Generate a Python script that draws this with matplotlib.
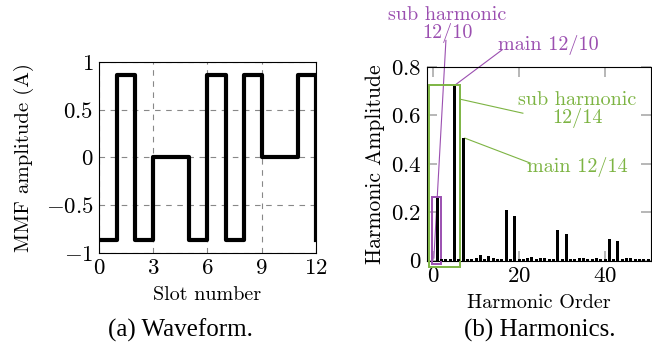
import matplotlib.pyplot as plt
from matplotlib.patches import Rectangle

plt.rcParams['font.family'] = ['cmr10', 'DejaVu Serif']
plt.rcParams['mathtext.fontset'] = 'cm'
plt.rcParams['axes.formatter.use_mathtext'] = True
plt.rcParams['font.size'] = 14

# MMF per slot (steps-post, last point closes the step at slot 12)
slots = [0, 1, 2, 3, 4, 5, 6, 7, 8, 9, 10, 11, 12]
mmf = [-0.866, 0.866, -0.866, 0, 0, -0.866, 0.866, -0.866, 0.866, 0, 0, 0.866, -0.866]

# harmonic spectrum, order 0..50
orders = list(range(51))
amps = [0, 0.26, 0.008, 0.006, 0.006, 0.72, 0.005, 0.505, 0.006, 0.008,
        0.012, 0.024, 0.006, 0.018, 0.011, 0.008, 0.008, 0.21, 0.006, 0.185,
        0.006, 0.008, 0.012, 0.014, 0.005, 0.01, 0.01, 0.008, 0.006, 0.125,
        0.005, 0.11, 0.006, 0.008, 0.01, 0.01, 0.005, 0.008, 0.01, 0.008,
        0.006, 0.09, 0.005, 0.08, 0.006, 0.01, 0.01, 0.008, 0.005, 0.006,
        0.005]

purple = '#9b4fb0'
green = '#7db443'

fig = plt.figure(figsize=(6.52, 3.51), dpi=100)

# (a) waveform
ax1 = fig.add_axes([0.1518, 0.2792, 0.3328, 0.5442])
ax1.plot(slots, mmf, drawstyle='steps-post', color='black', lw=3.0)
ax1.set_xlim(0, 12)
ax1.set_ylim(-1, 1)
ax1.set_xticks([0, 3, 6, 9, 12])
ax1.set_xticklabels(['$0$', '$3$', '$6$', '$9$', '$12$'])
ax1.set_yticks([-1, -0.5, 0, 0.5, 1])
ax1.set_yticklabels(['$-1$', '$-0.5$', '$0$', '$0.5$', '$1$'])
ax1.grid(True, color='#888888', ls=(0, (5, 5)), lw=0.8)
ax1.tick_params(length=0, pad=4, labelsize=16.5)
ax1.set_xlabel('Slot number', fontsize=14.5, labelpad=6)
ax1.set_ylabel('MMF amplitude (A)', fontsize=15, labelpad=8)
for s in ax1.spines.values():
    s.set_linewidth(0.8)

# (b) harmonics
ax2 = fig.add_axes([0.6549, 0.2564, 0.3436, 0.5527])
ax2.bar(orders, amps, width=0.7, color='black', zorder=4)
ax2.set_xlim(-1.4, 50.7)
ax2.set_ylim(-0.002, 0.8)
ax2.set_xticks([0, 20, 40])
ax2.set_xticklabels(['$0$', '$20$', '$40$'])
ax2.set_yticks([0, 0.2, 0.4, 0.6, 0.8])
ax2.set_yticklabels(['$0$', '$0.2$', '$0.4$', '$0.6$', '$0.8$'])
ax2.tick_params(direction='in', length=7, color='#aaaaaa', width=1.2,
                top=True, right=True, labelsize=16.5, pad=4)
ax2.set_xlabel('Harmonic Order', fontsize=14.5, labelpad=6)
ax2.set_ylabel('Harmonic Amplitude', fontsize=15.5, labelpad=4)
for s in ax2.spines.values():
    s.set_linewidth(0.8)

ax2.add_patch(Rectangle((-0.85, -0.027), 7.15, 0.754, fill=False,
                        edgecolor=green, lw=1.4, clip_on=False, zorder=3))
ax2.add_patch(Rectangle((-0.15, -0.015), 2.0, 0.279, fill=False,
                        edgecolor=purple, lw=1.4, clip_on=False, zorder=3))

ax2.plot([3.0, 0.2], [0.91, 0.01], color=purple, lw=0.8, clip_on=False)
ax2.text(3.26, 0.975, 'sub harmonic\n12/10', color=purple, ha='center',
         va='center', fontsize=14.5, linespacing=0.95)
ax2.plot([16.0, 5.1], [0.87, 0.725], color=purple, lw=0.8, clip_on=False)
ax2.text(26.7, 0.89, 'main 12/10', color=purple, ha='center', va='center',
         fontsize=14.5)
ax2.plot([20.9, 6.3], [0.609, 0.667], color=green, lw=0.8, clip_on=False)
ax2.text(33.5, 0.625, 'sub harmonic\n12/14', color=green, ha='center',
         va='center', fontsize=14.5, linespacing=0.95)
ax2.plot([22.6, 7.4], [0.403, 0.506], color=green, lw=0.8, clip_on=False)
ax2.text(33.5, 0.386, 'main 12/14', color=green, ha='center', va='center',
         fontsize=14.5)

cap = dict(family='Liberation Serif', fontsize=18, ha='center', va='center')
fig.text(180 / 652, 1 - 330 / 351, '(a) Waveform.', **cap)
fig.text(540 / 652, 1 - 330 / 351, '(b) Harmonics.', **cap)

fig.savefig('out.png', dpi=100)
